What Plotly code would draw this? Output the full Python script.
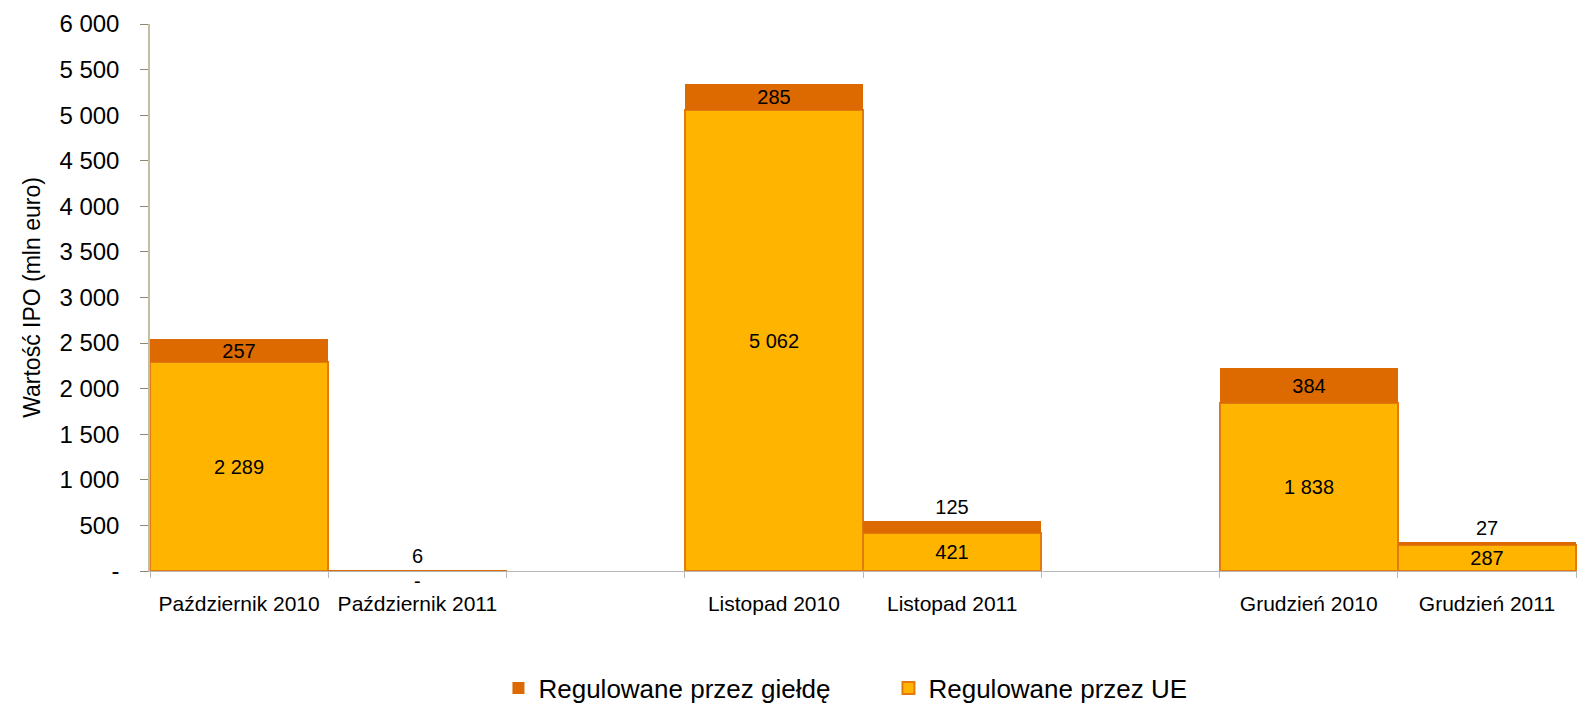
import plotly.graph_objects as go

categories = ["Październik 2010", "Październik 2011", " ", "Listopad 2010", "Listopad 2011", "  ",
              "Grudzień 2010", "Grudzień 2011"]
ue_values = [2289, 0, None, 5062, 421, None, 1838, 287]
gielda_values = [257, 6, None, 285, 125, None, 384, 27]
series_names = ["Regulowane przez giełdę", "Regulowane przez UE"]
y_ticks = [0, 500, 1000, 1500, 2000, 2500, 3000, 3500, 4000, 4500, 5000, 5500, 6000]


def fmt(v):
    if v is None:
        return ""
    if v == 0:
        return "-"
    return f"{v:,}".replace(",", " ")


YELLOW = "#FFB400"
DARK = "#DC6A00"
EDGE = "#E37A0E"
FONT = "Liberation Sans, Arial, sans-serif"
LBL = 20

ue_text = [fmt(v) if v else "" for v in ue_values]
g_text = [fmt(v) for v in gielda_values]
g_pos = ["outside" if (v is not None and v < 200) else "inside" for v in gielda_values]

fig = go.Figure()
fig.add_trace(go.Bar(
    x=categories, y=ue_values, name=series_names[1],
    marker=dict(color=YELLOW, line=dict(color=EDGE, width=2)),
    text=ue_text, textposition="inside", insidetextanchor="middle",
    textfont=dict(size=LBL, color="#000000", family=FONT), constraintext="none",
    hoverinfo="x+y",
))
fig.add_trace(go.Bar(
    x=categories, y=gielda_values, name=series_names[0],
    marker=dict(color=DARK, line=dict(color=DARK, width=0)),
    text=g_text, textposition=g_pos, insidetextanchor="middle",
    textfont=dict(size=LBL, color="#000000", family=FONT),
    outsidetextfont=dict(size=LBL, color="#000000", family=FONT),
    insidetextfont=dict(size=LBL, color="#000000", family=FONT),
    constraintext="none", cliponaxis=False,
    hoverinfo="x+y",
))

# zero-value label for UE
for c, v in zip(categories, ue_values):
    if v == 0:
        fig.add_annotation(x=c, y=v, text=fmt(v), showarrow=False, yshift=-10,
                           font=dict(size=LBL, color="#000000", family=FONT))

# page body keeps an 8px default margin, so the figure is sized to fit inside it
fig.update_layout(
    barmode="stack", bargap=0,
    width=1577, height=696,
    margin=dict(l=142, r=0, t=16, b=133, autoexpand=False),
    paper_bgcolor="white", plot_bgcolor="white",
    font=dict(family=FONT, color="#000000"),
    legend=dict(orientation="h", x=0.311, xanchor="left", xref="container",
                y=0.023, yanchor="middle", yref="container",
                traceorder="reversed", font=dict(size=26, family=FONT),
                itemwidth=30, entrywidth=345, itemsizing="constant"),
    showlegend=True,
)
fig.update_xaxes(
    type="category", categoryorder="array", categoryarray=categories,
    range=[-0.5, 7.55], automargin=False,
    showline=True, linecolor="#B8B8B8", linewidth=1,
    ticks="outside", tickson="boundaries", ticklen=6, tickcolor="#B8B8B8",
    tickfont=dict(size=21, family=FONT, color="#000000"), ticklabelstandoff=14,
    showgrid=False,
)
fig.update_yaxes(
    range=[0, 6000], tickvals=y_ticks, ticktext=[fmt(v) for v in y_ticks],
    automargin=False,
    showline=True, linecolor="#C4BDA6", linewidth=1.5,
    ticks="outside", ticklen=8, tickcolor="#8F8770",
    tickfont=dict(size=24, family=FONT, color="#000000"), ticklabelstandoff=16,
    showgrid=False, zeroline=False,
    title=dict(text="Wartość IPO (mln euro)", font=dict(size=23, family=FONT), standoff=12),
)

fig.write_html("out.html")
